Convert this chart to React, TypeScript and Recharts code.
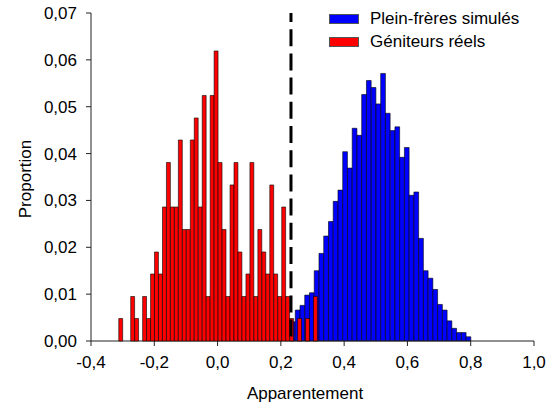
import React from 'react';
import { BarChart, Bar, XAxis, YAxis, ReferenceLine, Label } from 'recharts';

// Géniteurs réels (red) histogram bins
const redCenters = [
  -0.306, -0.2934, -0.2809, -0.2683, -0.2558, -0.2432, -0.2306, -0.2181, -0.2055, -0.193,
  -0.1804, -0.1678, -0.1553, -0.1427, -0.1302, -0.1176, -0.105, -0.0925, -0.0799, -0.0674,
  -0.0548, -0.0422, -0.0297, -0.0171, -0.0046, 0.008, 0.0206, 0.0331, 0.0457, 0.0582,
  0.0708, 0.0834, 0.0959, 0.1085, 0.121, 0.1336, 0.1462, 0.1587, 0.1713, 0.1838,
  0.1964, 0.209, 0.2215, 0.2341, 0.2466, 0.2592, 0.2718, 0.2843, 0.2969, 0.3094,
];
const redValues = [
  0.0048, 0, 0, 0.0095, 0.0048, 0, 0.0095, 0.0048, 0.0143, 0.019,
  0.0143, 0.0286, 0.0381, 0.0286, 0.0286, 0.0429, 0.0238, 0.0238, 0.0429, 0.0476,
  0.0286, 0.0524, 0.0095, 0.0524, 0.0619, 0.0381, 0.0238, 0.0095, 0.0333, 0.0381,
  0.019, 0.0095, 0.0143, 0.0381, 0.0095, 0.0238, 0.019, 0.0143, 0.0333, 0.0143,
  0.0095, 0.0286, 0.0095, 0.0048, 0, 0.0048, 0, 0.0048, 0, 0.0095,
];

// Plein-frères simulés (blue) histogram bins
const blueCenters = [
  0.238, 0.253, 0.268, 0.283, 0.298, 0.313, 0.328, 0.343, 0.358, 0.373,
  0.388, 0.403, 0.418, 0.433, 0.448, 0.463, 0.478, 0.493, 0.508, 0.523,
  0.538, 0.553, 0.568, 0.583, 0.598, 0.613, 0.628, 0.643, 0.658, 0.673,
  0.688, 0.703, 0.718, 0.733, 0.748, 0.763, 0.778, 0.793,
];
const blueValues = [
  0.0041, 0.0066, 0.0076, 0.0098, 0.0103, 0.015, 0.0187, 0.0224, 0.0255, 0.0298,
  0.0322, 0.0404, 0.0369, 0.0454, 0.0439, 0.0526, 0.0556, 0.0541, 0.0506, 0.0571,
  0.0486, 0.0449, 0.0457, 0.0392, 0.0413, 0.0311, 0.0318, 0.0219, 0.015, 0.0134,
  0.011, 0.0078, 0.0066, 0.0043, 0.0027, 0.0018, 0.0018, 0.0009,
];

const xTicks = [-0.4, -0.2, 0, 0.2, 0.4, 0.6, 0.8, 1.0];
const yTicks = [0, 0.01, 0.02, 0.03, 0.04, 0.05, 0.06, 0.07];
const thresholdX = 0.232;

const seriesNames = ['Plein-frères simulés', 'Géniteurs réels'];
const seriesColors = ['#0000FF', '#FF0000'];

const redData = redCenters.map((x, i) => ({ x, v: redValues[i] }));
const blueData = blueCenters.map((x, i) => ({ x, v: blueValues[i] }));

const FONT = '"Liberation Sans", Arial, sans-serif';
const W = 556;
const H = 406;
const PLOT_LEFT = 91;
const PLOT_RIGHT_MARGIN = 22;
const PLOT_TOP = 13;
const XAXIS_H = 65;

const fmtY = (v: number) => v.toFixed(2).replace('.', ',');
const fmtX = (v: number) => v.toFixed(1).replace('.', ',');

const tickStyle = { fill: '#000', fontSize: 17, fontFamily: FONT };

export default function App() {
  return (
    <div style={{ position: 'absolute', left: 0, top: 0, width: W, height: H, background: '#fff', fontFamily: FONT }}>
      <div style={{ position: 'absolute', left: 0, top: 0 }}>
        <BarChart
          width={W}
          height={H}
          data={blueData}
          margin={{ top: PLOT_TOP, right: PLOT_RIGHT_MARGIN, left: 0, bottom: 0 }}
          barCategoryGap={0}
        >
          <XAxis
            dataKey="x"
            type="number"
            domain={[-0.4, 1.0]}
            ticks={xTicks}
            tickFormatter={fmtX}
            height={XAXIS_H}
            tickSize={5}
            tickMargin={10}
            tick={tickStyle}
            axisLine={{ stroke: '#222' }}
            tickLine={{ stroke: '#222' }}
            interval={0}
          >
            <Label
              content={() => (
                <text x={305} y={399} textAnchor="middle" fontSize={17} fontFamily={FONT} fill="#000">
                  Apparentement
                </text>
              )}
            />
          </XAxis>
          <YAxis
            type="number"
            domain={[0, 0.07]}
            ticks={yTicks}
            tickFormatter={fmtY}
            width={PLOT_LEFT}
            tickSize={5}
            tickMargin={9}
            tick={tickStyle}
            axisLine={{ stroke: '#222' }}
            tickLine={{ stroke: '#222' }}
            interval={0}
          >
            <Label
              content={() => (
                <text
                  x={25}
                  y={179}
                  transform="rotate(-90, 25, 179)"
                  textAnchor="middle"
                  dominantBaseline="central"
                  fontSize={17}
                  fontFamily={FONT}
                  fill="#000"
                >
                  Proportion
                </text>
              )}
            />
          </YAxis>
          <Bar dataKey="v" fill={seriesColors[0]} stroke="#000" strokeWidth={0.6} barSize={4.7} isAnimationActive={false} />
        </BarChart>
      </div>
      <div style={{ position: 'absolute', left: 0, top: 0 }}>
        <BarChart
          width={W}
          height={H}
          data={redData}
          margin={{ top: PLOT_TOP, right: PLOT_RIGHT_MARGIN, left: PLOT_LEFT, bottom: XAXIS_H }}
          barCategoryGap={0}
        >
          <XAxis dataKey="x" type="number" domain={[-0.4, 1.0]} ticks={xTicks} hide />
          <YAxis type="number" domain={[0, 0.07]} ticks={yTicks} hide />
          <Bar dataKey="v" fill={seriesColors[1]} stroke="#000" strokeWidth={0.6} barSize={3.9} isAnimationActive={false} />
          <ReferenceLine
            segment={[{ x: thresholdX, y: 0.07 }, { x: thresholdX, y: 0 }]}
            stroke="#000"
            strokeWidth={3}
            strokeDasharray="17 7.2"
            strokeDashoffset={8}
          />
        </BarChart>
      </div>
      <div style={{ position: 'absolute', left: 329, top: 8, fontFamily: FONT, fontSize: 17, color: '#000' }}>
        {seriesNames.map((name, i) => (
          <div key={name} style={{ display: 'flex', alignItems: 'center', height: 22.4, whiteSpace: 'nowrap' }}>
            <span
              style={{
                display: 'inline-block',
                width: 30,
                height: 10,
                background: seriesColors[i],
                border: '1px solid #555',
                boxSizing: 'border-box',
                marginRight: 11,
              }}
            />
            <span>{name}</span>
          </div>
        ))}
      </div>
    </div>
  );
}
